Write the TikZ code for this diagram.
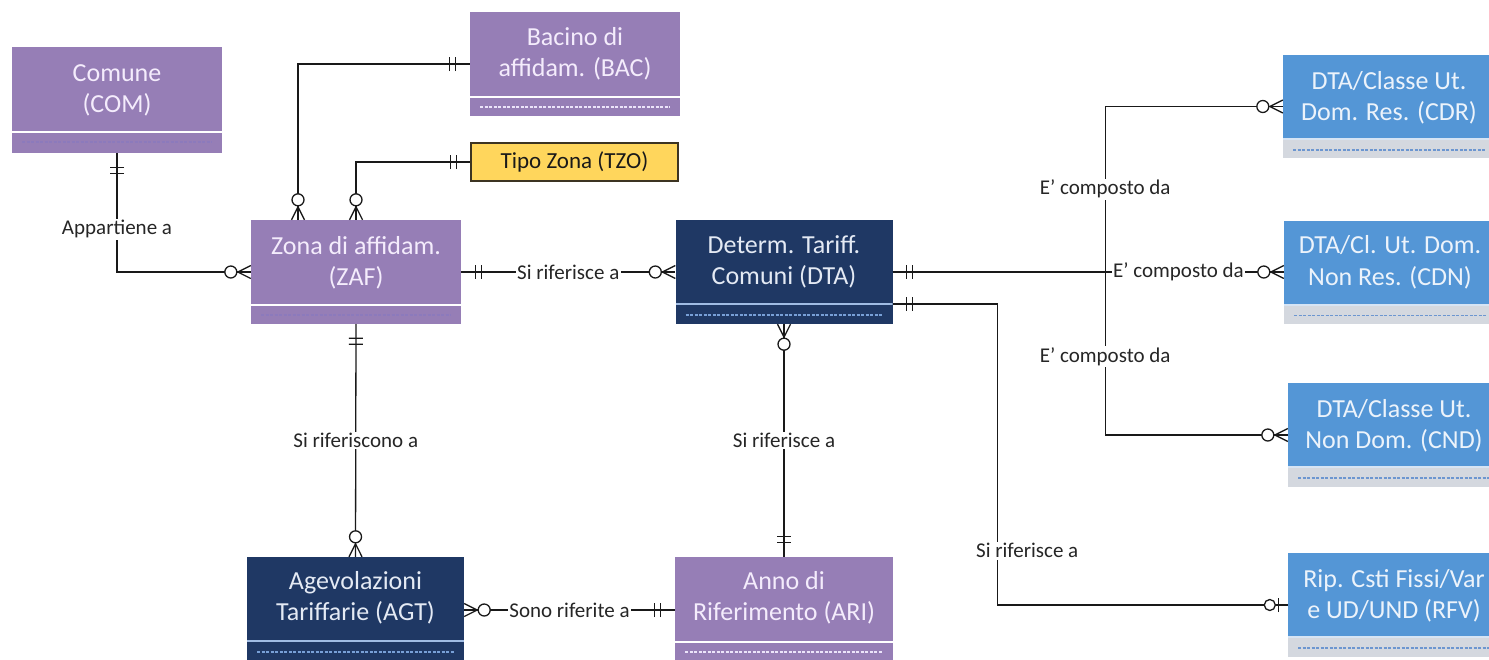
\documentclass[tikz,border=0pt]{standalone}
\usepackage{fontspec}
\newfontfamily\erfont{Carlito}
\usetikzlibrary{calc,arrows.meta}

\definecolor{cpurple}{RGB}{150,126,182}
\definecolor{cptext}{RGB}{244,236,252}
\definecolor{cpdash}{RGB}{236,228,250}
\definecolor{cpfaint}{RGB}{140,122,188}
\definecolor{cnavy}{RGB}{31,56,100}
\definecolor{cntext}{RGB}{228,234,244}
\definecolor{cnsep}{RGB}{160,188,228}
\definecolor{cndash}{RGB}{120,160,215}
\definecolor{cblue}{RGB}{84,150,214}
\definecolor{cbtext}{RGB}{236,243,251}
\definecolor{cbsep}{RGB}{214,228,244}
\definecolor{cgray}{RGB}{212,216,223}
\definecolor{cbdash}{RGB}{108,150,208}
\definecolor{cyellow}{RGB}{255,214,92}
\definecolor{cyborder}{RGB}{60,52,34}

\pgfdeclarearrow{
  name = ERone,
  setup code = {
    \pgfarrowssettipend{0pt}
    \pgfarrowssetlineend{0pt}
    \pgfarrowssetbackend{-21pt}
    \pgfarrowshullpoint{0pt}{7pt}
    \pgfarrowshullpoint{0pt}{-7pt}
    \pgfarrowshullpoint{-21pt}{7pt}
    \pgfarrowshullpoint{-21pt}{-7pt}
  },
  drawing code = {
    \pgfsetdash{}{0pt}
    \pgfpathmoveto{\pgfqpoint{-14pt}{-7pt}}
    \pgfpathlineto{\pgfqpoint{-14pt}{7pt}}
    \pgfpathmoveto{\pgfqpoint{-20pt}{-7pt}}
    \pgfpathlineto{\pgfqpoint{-20pt}{7pt}}
    \pgfusepathqstroke
  }
}
\pgfdeclarearrow{
  name = ERzm,
  setup code = {
    \pgfarrowssettipend{0pt}
    \pgfarrowssetlineend{0pt}
    \pgfarrowssetbackend{-27pt}
    \pgfarrowshullpoint{0pt}{7pt}
    \pgfarrowshullpoint{0pt}{-7pt}
    \pgfarrowshullpoint{-27pt}{6pt}
    \pgfarrowshullpoint{-27pt}{-6pt}
  },
  drawing code = {
    \pgfsetdash{}{0pt}
    \pgfsetroundjoin
    \pgfpathmoveto{\pgfqpoint{0pt}{6.5pt}}
    \pgfpathlineto{\pgfqpoint{-13pt}{0pt}}
    \pgfpathlineto{\pgfqpoint{0pt}{-6.5pt}}
    \pgfusepathqstroke
    \pgfsetfillcolor{white}
    \pgfpathcircle{\pgfqpoint{-20pt}{0pt}}{6pt}
    \pgfusepathqfillstroke
  }
}
\pgfdeclarearrow{
  name = ERzo,
  setup code = {
    \pgfarrowssettipend{0pt}
    \pgfarrowssetlineend{0pt}
    \pgfarrowssetbackend{-24pt}
    \pgfarrowshullpoint{0pt}{7pt}
    \pgfarrowshullpoint{0pt}{-7pt}
    \pgfarrowshullpoint{-24pt}{6pt}
    \pgfarrowshullpoint{-24pt}{-6pt}
  },
  drawing code = {
    \pgfsetdash{}{0pt}
    \pgfpathmoveto{\pgfqpoint{-9pt}{-7pt}}
    \pgfpathlineto{\pgfqpoint{-9pt}{7pt}}
    \pgfusepathqstroke
    \pgfsetfillcolor{white}
    \pgfpathcircle{\pgfqpoint{-18pt}{0pt}}{5.5pt}
    \pgfusepathqfillstroke
  }
}

\tikzset{
  ent/.style n args={5}{rectangle, inner sep=0pt, fill=#1,
    font=\erfont\fontsize{26}{31.5}\selectfont,
    path picture={
      \fill[#2] ([yshift=-#3]path picture bounding box.north west) rectangle (path picture bounding box.south east);
      \draw[#4, line width=2pt] ([yshift=-#3]path picture bounding box.north west) -- ([yshift=-#3]path picture bounding box.north east);
      \draw[#5, line width=1.2pt, dash pattern=on 3pt off 1.5pt] ([xshift=10pt,yshift=-95pt]path picture bounding box.north west) -- ([xshift=-10pt,yshift=-95pt]path picture bounding box.north east);
    }},
  purpleent/.style={ent={cpurple}{cpurple}{85pt}{white}{#1}, text=cptext},
  navyent/.style={ent={cnavy}{cnavy}{84pt}{cnsep}{cndash}, text=cntext},
  blueent/.style={ent={cblue}{cgray}{84pt}{cbsep}{cbdash}, text=cbtext},
  conn/.style={line width=1.3pt, draw=black!90},
  lbl/.style={font=\erfont\fontsize{21}{25}\selectfont, fill=white, inner sep=1.5pt, text=black!85},
}

\begin{document}
\begin{tikzpicture}[x=1pt,y=-1pt]
\useasboundingbox (0,0) rectangle (1489,659);
\clip (0,0) rectangle (1489,659);
\fill[white] (0,0) rectangle (1489,659);

% entities
\node[purpleent=cpfaint, minimum width=210pt, minimum height=106pt, text height=34pt, text depth=72pt] (COM) at (117,100)
  {\begin{tabular}[t]{@{}c@{}}Comune\\(COM)\end{tabular}};
\node[purpleent=cpdash, minimum width=210pt, minimum height=104pt, text height=33pt, text depth=71pt] (BAC) at (575,64)
  {\begin{tabular}[t]{@{}c@{}}Bacino di\\affidam. (BAC)\end{tabular}};
\node[draw=cyborder, line width=1.5pt, fill=cyellow, minimum width=207pt, minimum height=38pt, inner sep=0pt,
  font=\erfont\fontsize{23}{27}\selectfont, text=black!90] (TZO) at (574.5,162) {Tipo Zona (TZO)};
\node[purpleent=cpfaint, minimum width=210pt, minimum height=104pt, text height=34pt, text depth=70pt] (ZAF) at (356,272)
  {\begin{tabular}[t]{@{}c@{}}Zona di affidam.\\(ZAF)\end{tabular}};
\node[navyent, minimum width=217pt, minimum height=104pt, text height=33pt, text depth=71pt] (DTA) at (784,272)
  {\begin{tabular}[t]{@{}c@{}}Determ. Tariff.\\Comuni (DTA)\end{tabular}};
\node[navyent, minimum width=217pt, minimum height=106pt, text height=32pt, text depth=74pt] (AGT) at (355.5,610)
  {\begin{tabular}[t]{@{}c@{}}Agevolazioni\\Tariffarie (AGT)\end{tabular}};
\node[purpleent=cpdash, minimum width=218pt, minimum height=106pt, text height=32pt, text depth=74pt] (ARI) at (784,610)
  {\begin{tabular}[t]{@{}c@{}}Anno di\\Riferimento (ARI)\end{tabular}};
\node[blueent, minimum width=212pt, minimum height=103pt, text height=34pt, text depth=69pt] (CDR) at (1389,106.5)
  {\begin{tabular}[t]{@{}c@{}}DTA/Classe Ut.\\Dom. Res. (CDR)\end{tabular}};
\node[blueent, minimum width=212pt, minimum height=103pt, text height=33pt, text depth=70pt] (CDN) at (1390,272)
  {\begin{tabular}[t]{@{}c@{}}DTA/Cl. Ut. Dom.\\Non Res. (CDN)\end{tabular}};
\node[blueent, minimum width=212pt, minimum height=104pt, text height=34pt, text depth=70pt] (CND) at (1394,435)
  {\begin{tabular}[t]{@{}c@{}}DTA/Classe Ut.\\Non Dom. (CND)\end{tabular}};
\node[blueent, minimum width=212pt, minimum height=104pt, text height=34pt, text depth=70pt] (RFV) at (1394,605)
  {\begin{tabular}[t]{@{}c@{}}Rip. Csti Fissi/Var\\e UD/UND (RFV)\end{tabular}};

% bend points
\path (DTA.east) ++(212.5,0) coordinate (J);
\path ([yshift=-32pt]DTA.east) ++(104.5,0) coordinate (B1);

% connectors
\draw[conn, ERone-ERzm] (COM.south) |- node[lbl, pos=0.32] {Appartiene a} (ZAF.west);
\draw[conn, ERzm-ERone] ([xshift=-58pt]ZAF.north) |- (BAC.west);
\draw[conn, ERzm-ERone] (ZAF.north) |- (TZO.west);
\draw[conn, ERone-ERzm] (ZAF.east) -- node[lbl] {Si riferisce a} (DTA.west);
\draw[conn, ERone-ERzm] (DTA.east) -- (J) |- node[lbl, pos=0.25] {E’ composto da} (CDR.west);
\draw[conn, ERone-ERzm] (DTA.east) -- (J) -- node[lbl, pos=0.41] {E’ composto da} (CDN.west);
\draw[conn, ERone-ERzm] (DTA.east) -- (J) |- node[lbl, pos=0.26] {E’ composto da} (CND.west);
\draw[conn, line width=2.4pt] (DTA.east) -- (J);
\draw[conn, ERone-ERzo] ([yshift=-32pt]DTA.east) -- (B1) |- node[lbl, pos=0.41, xshift=30pt] {Si riferisce a} (RFV.west);
\draw[conn, ERzm-ERone] (DTA.south) -- node[lbl] {Si riferisce a} (ARI.north);
\draw[conn, ERone-ERzm] (ZAF.south) -- node[lbl] {Si riferiscono a} (AGT.north);
\draw[conn, ERzm-ERone] (AGT.east) -- node[lbl] {Sono riferite a} (ARI.west);
\end{tikzpicture}
\end{document}
